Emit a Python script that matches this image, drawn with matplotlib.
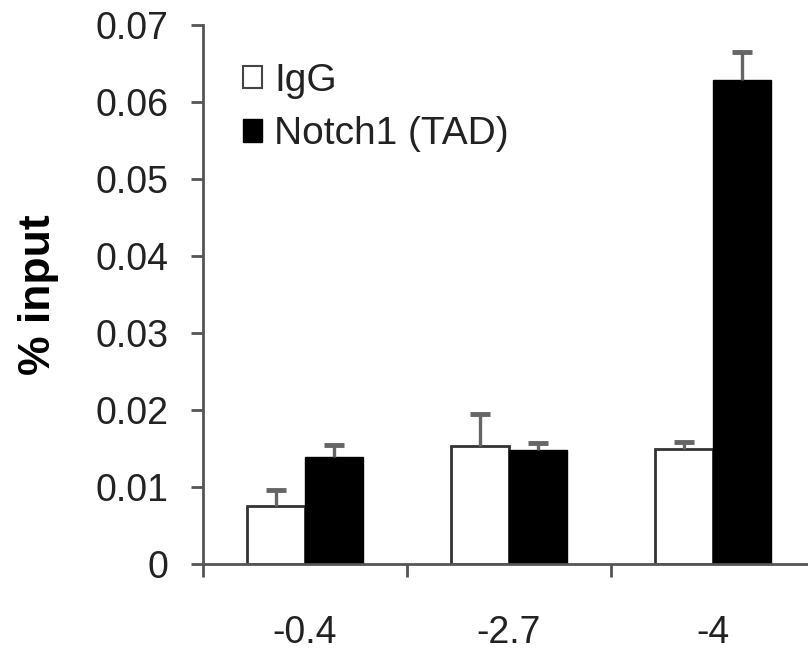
import numpy as np
import matplotlib
matplotlib.use("Agg")
import matplotlib.pyplot as plt

# values
categories = ["-0.4", "-2.7", "-4"]
igg = [0.0075, 0.0153, 0.0149]
igg_err = [0.0021, 0.0042, 0.0009]
notch = [0.0139, 0.0148, 0.0629]
notch_err = [0.0016, 0.0009, 0.0036]

plt.rcParams['font.family'] = ['Liberation Sans', 'DejaVu Sans']

fig = plt.figure(figsize=(8.08, 6.54), dpi=100)
# right edge of the axis runs off the figure, like the cropped original
ax = fig.add_axes([203 / 808, 90 / 654, 612 / 808, 539 / 654])

x = np.arange(len(categories))
w = 0.284
axis_grey = '#555555'
err_kw = dict(ecolor='#666666', elinewidth=2.4, capsize=7, capthick=3.5)

b1 = ax.bar(x - w / 2, igg, w, color='white', edgecolor='#333333', linewidth=2,
            yerr=[np.zeros(3), igg_err], error_kw=err_kw, label='IgG', zorder=2)
b2 = ax.bar(x + w / 2, notch, w, color='black', edgecolor='black', linewidth=1,
            yerr=[np.zeros(3), notch_err], error_kw=err_kw, label='Notch1 (TAD)',
            zorder=2)

# only the upper half of each error bar is shown: drop the caps at bar tops
for cont, heights in [(b1, igg), (b2, notch)]:
    for cap in cont.errorbar.lines[1]:
        if np.allclose(cap.get_ydata(), heights):
            cap.set_visible(False)

ax.set_xlim(-0.5, 2.5)
ax.set_ylim(0, 0.07)
ax.set_yticks(np.arange(0, 0.071, 0.01))
ax.set_yticklabels(['0'] + [f'{v:.2f}' for v in np.arange(0.01, 0.071, 0.01)])

# category boundaries carry the tick marks, labels sit in the middle
ax.set_xticks([-0.5, 0.5, 1.5, 2.5])
ax.set_xticklabels([])
ax.set_xticks(x, minor=True)
ax.set_xticklabels(categories, minor=True)

for side in ['top', 'right']:
    ax.spines[side].set_visible(False)
for side in ['left', 'bottom']:
    ax.spines[side].set_color(axis_grey)
    ax.spines[side].set_linewidth(2)

ax.tick_params(axis='y', direction='out', length=9, width=2, color=axis_grey,
               labelsize=27, pad=16, labelcolor='#222222')
ax.tick_params(axis='x', which='major', direction='out', length=9, width=2,
               color=axis_grey)
ax.tick_params(axis='x', which='minor', length=0, labelsize=27, pad=37,
               labelcolor='#222222')

ax.set_ylabel('% input', fontsize=32, fontweight='bold', labelpad=26)

leg = ax.legend(loc='upper left', bbox_to_anchor=(0.065, 0.93), frameon=False,
                fontsize=28, handlelength=0.5, handleheight=0.5,
                handletextpad=0.3, labelspacing=0.45, borderpad=0,
                borderaxespad=0)
for t in leg.get_texts():
    t.set_color('#222222')
leg.legend_handles[0].set_edgecolor('#444444')
leg.legend_handles[0].set_linewidth(1.5)

fig.savefig('out.png', dpi=100)
